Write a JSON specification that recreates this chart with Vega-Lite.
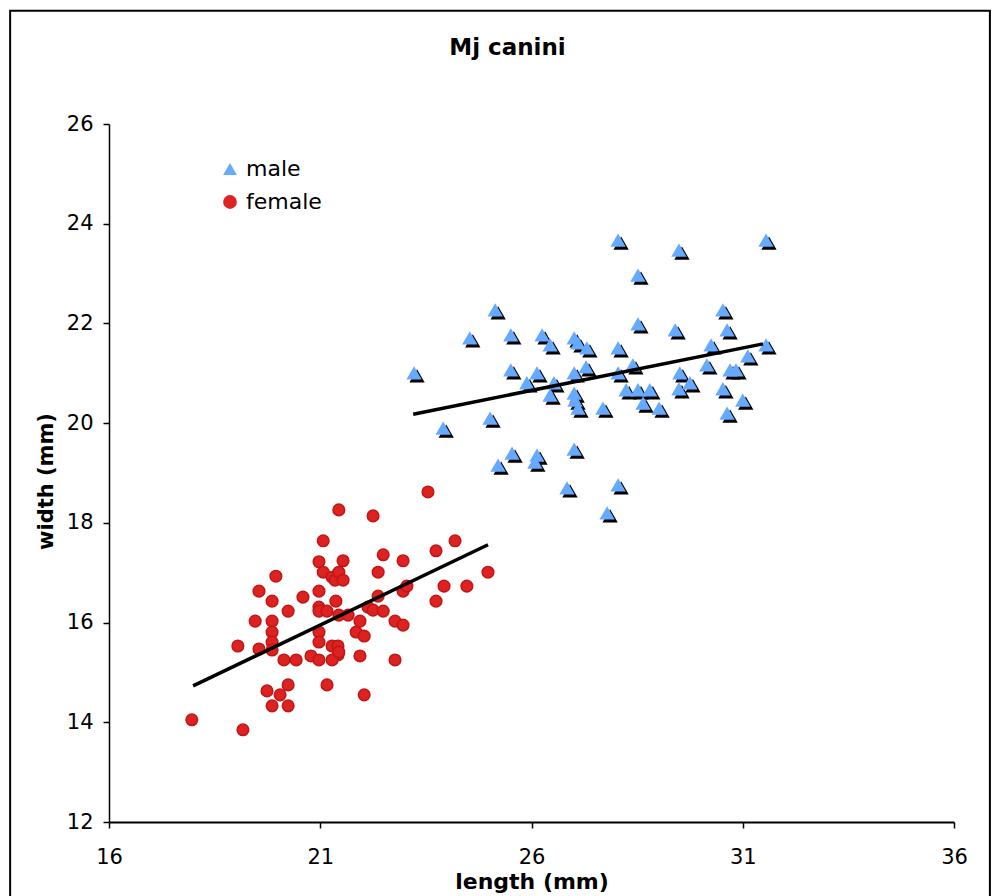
{
  "$schema": "https://vega.github.io/schema/vega-lite/v6.json",
  "autosize": {"type": "none"},
  "width": 845,
  "height": 698,
  "padding": {"left": 109, "top": 124, "right": 38, "bottom": 74},
  "background": "white",
  "title": {"text": "Mj canini", "fontSize": 23, "fontWeight": "bold", "color": "black", "offset": -50, "dx": -24, "font": "DejaVu Sans"},
  "datasets": {
    "pts": [
      {"sex": "male", "length": 25.14, "width": 22.27},
      {"sex": "male", "length": 24.54, "width": 21.71},
      {"sex": "male", "length": 25.51, "width": 21.77},
      {"sex": "male", "length": 26.25, "width": 21.77},
      {"sex": "male", "length": 26.44, "width": 21.57},
      {"sex": "male", "length": 27.01, "width": 21.71},
      {"sex": "male", "length": 27.10, "width": 21.61},
      {"sex": "male", "length": 27.31, "width": 21.51},
      {"sex": "male", "length": 23.22, "width": 21.01},
      {"sex": "male", "length": 25.51, "width": 21.07},
      {"sex": "male", "length": 26.13, "width": 21.01},
      {"sex": "male", "length": 25.89, "width": 20.81},
      {"sex": "male", "length": 26.53, "width": 20.81},
      {"sex": "male", "length": 26.44, "width": 20.56},
      {"sex": "male", "length": 27.01, "width": 21.01},
      {"sex": "male", "length": 27.29, "width": 21.13},
      {"sex": "male", "length": 27.01, "width": 20.60},
      {"sex": "male", "length": 27.03, "width": 20.46},
      {"sex": "male", "length": 27.10, "width": 20.30},
      {"sex": "male", "length": 23.91, "width": 19.90},
      {"sex": "male", "length": 25.02, "width": 20.10},
      {"sex": "male", "length": 25.54, "width": 19.40},
      {"sex": "male", "length": 25.21, "width": 19.16},
      {"sex": "male", "length": 26.13, "width": 19.36},
      {"sex": "male", "length": 26.08, "width": 19.22},
      {"sex": "male", "length": 27.01, "width": 19.48},
      {"sex": "male", "length": 26.84, "width": 18.70},
      {"sex": "male", "length": 28.05, "width": 23.67},
      {"sex": "male", "length": 29.49, "width": 23.47},
      {"sex": "male", "length": 31.55, "width": 23.67},
      {"sex": "male", "length": 28.52, "width": 22.97},
      {"sex": "male", "length": 30.53, "width": 22.27},
      {"sex": "male", "length": 28.52, "width": 21.99},
      {"sex": "male", "length": 29.40, "width": 21.87},
      {"sex": "male", "length": 30.63, "width": 21.87},
      {"sex": "male", "length": 30.25, "width": 21.57},
      {"sex": "male", "length": 31.55, "width": 21.57},
      {"sex": "male", "length": 31.12, "width": 21.35},
      {"sex": "male", "length": 28.05, "width": 21.51},
      {"sex": "male", "length": 28.40, "width": 21.17},
      {"sex": "male", "length": 28.05, "width": 21.01},
      {"sex": "male", "length": 30.15, "width": 21.17},
      {"sex": "male", "length": 29.51, "width": 21.01},
      {"sex": "male", "length": 30.70, "width": 21.07},
      {"sex": "male", "length": 30.84, "width": 21.07},
      {"sex": "male", "length": 29.75, "width": 20.81},
      {"sex": "male", "length": 28.24, "width": 20.67},
      {"sex": "male", "length": 28.52, "width": 20.67},
      {"sex": "male", "length": 28.80, "width": 20.67},
      {"sex": "male", "length": 29.49, "width": 20.69},
      {"sex": "male", "length": 30.53, "width": 20.69},
      {"sex": "male", "length": 28.64, "width": 20.40},
      {"sex": "male", "length": 29.02, "width": 20.30},
      {"sex": "male", "length": 31.00, "width": 20.46},
      {"sex": "male", "length": 27.69, "width": 20.30},
      {"sex": "male", "length": 30.63, "width": 20.20},
      {"sex": "male", "length": 28.05, "width": 18.76},
      {"sex": "male", "length": 27.79, "width": 18.20},
      {"sex": "female", "length": 17.96, "width": 14.05},
      {"sex": "female", "length": 19.17, "width": 13.85},
      {"sex": "female", "length": 19.05, "width": 15.53},
      {"sex": "female", "length": 19.46, "width": 16.03},
      {"sex": "female", "length": 19.55, "width": 16.63},
      {"sex": "female", "length": 19.55, "width": 15.47},
      {"sex": "female", "length": 19.86, "width": 16.43},
      {"sex": "female", "length": 19.86, "width": 16.03},
      {"sex": "female", "length": 19.86, "width": 15.81},
      {"sex": "female", "length": 19.86, "width": 15.61},
      {"sex": "female", "length": 19.86, "width": 15.45},
      {"sex": "female", "length": 19.95, "width": 16.93},
      {"sex": "female", "length": 19.74, "width": 14.63},
      {"sex": "female", "length": 19.86, "width": 14.33},
      {"sex": "female", "length": 20.05, "width": 14.55},
      {"sex": "female", "length": 20.24, "width": 14.75},
      {"sex": "female", "length": 20.24, "width": 14.33},
      {"sex": "female", "length": 20.24, "width": 16.23},
      {"sex": "female", "length": 20.14, "width": 15.25},
      {"sex": "female", "length": 20.43, "width": 15.25},
      {"sex": "female", "length": 20.59, "width": 16.51},
      {"sex": "female", "length": 20.78, "width": 15.33},
      {"sex": "female", "length": 20.97, "width": 17.22},
      {"sex": "female", "length": 21.07, "width": 17.64},
      {"sex": "female", "length": 20.97, "width": 16.63},
      {"sex": "female", "length": 20.97, "width": 16.31},
      {"sex": "female", "length": 20.97, "width": 16.23},
      {"sex": "female", "length": 20.97, "width": 15.81},
      {"sex": "female", "length": 20.97, "width": 15.61},
      {"sex": "female", "length": 20.97, "width": 15.25},
      {"sex": "female", "length": 21.07, "width": 17.01},
      {"sex": "female", "length": 21.16, "width": 16.23},
      {"sex": "female", "length": 21.16, "width": 14.75},
      {"sex": "female", "length": 21.28, "width": 16.91},
      {"sex": "female", "length": 21.35, "width": 16.85},
      {"sex": "female", "length": 21.37, "width": 16.43},
      {"sex": "female", "length": 21.28, "width": 15.53},
      {"sex": "female", "length": 21.42, "width": 15.53},
      {"sex": "female", "length": 21.42, "width": 15.35},
      {"sex": "female", "length": 21.28, "width": 15.25},
      {"sex": "female", "length": 21.44, "width": 17.01},
      {"sex": "female", "length": 21.54, "width": 17.24},
      {"sex": "female", "length": 21.54, "width": 16.85},
      {"sex": "female", "length": 21.44, "width": 18.26},
      {"sex": "female", "length": 21.44, "width": 16.15},
      {"sex": "female", "length": 21.44, "width": 15.41},
      {"sex": "female", "length": 21.66, "width": 16.15},
      {"sex": "female", "length": 21.85, "width": 15.81},
      {"sex": "female", "length": 21.94, "width": 16.03},
      {"sex": "female", "length": 21.94, "width": 15.33},
      {"sex": "female", "length": 22.04, "width": 15.73},
      {"sex": "female", "length": 22.04, "width": 14.55},
      {"sex": "female", "length": 22.13, "width": 16.31},
      {"sex": "female", "length": 22.25, "width": 16.25},
      {"sex": "female", "length": 22.25, "width": 18.14},
      {"sex": "female", "length": 22.37, "width": 17.01},
      {"sex": "female", "length": 22.37, "width": 16.53},
      {"sex": "female", "length": 22.49, "width": 17.36},
      {"sex": "female", "length": 22.49, "width": 16.23},
      {"sex": "female", "length": 22.77, "width": 16.03},
      {"sex": "female", "length": 22.77, "width": 15.25},
      {"sex": "female", "length": 22.96, "width": 17.24},
      {"sex": "female", "length": 22.96, "width": 16.63},
      {"sex": "female", "length": 22.96, "width": 15.95},
      {"sex": "female", "length": 23.05, "width": 16.73},
      {"sex": "female", "length": 23.55, "width": 18.62},
      {"sex": "female", "length": 23.74, "width": 17.44},
      {"sex": "female", "length": 23.74, "width": 16.43},
      {"sex": "female", "length": 23.93, "width": 16.73},
      {"sex": "female", "length": 24.19, "width": 17.64},
      {"sex": "female", "length": 24.47, "width": 16.73},
      {"sex": "female", "length": 24.97, "width": 17.01}
    ],
    "fit": [
      {"sex": "male", "length": 23.2, "width": 20.18},
      {"sex": "male", "length": 31.48, "width": 21.59},
      {"sex": "female", "length": 17.99, "width": 14.73},
      {"sex": "female", "length": 24.97, "width": 17.56}
    ]
  },
  "layer": [
    {
      "data": {"values": [{"frame": 1}]},
      "mark": {"type": "rect", "filled": false, "stroke": "black", "strokeWidth": 2, "clip": false},
      "encoding": {
        "x": {"datum": 13.66, "type": "quantitative", "scale": {"domain": [16, 36], "nice": false, "zero": false}},
        "x2": {"datum": 36.85},
        "y": {"datum": 28.27, "type": "quantitative", "scale": {"domain": [12, 26], "nice": false, "zero": false}},
        "y2": {"datum": 10.2}
      }
    },
    {
      "data": {"name": "pts"},
      "transform": [{"filter": "datum.sex === 'male'"}],
      "mark": {"type": "point", "shape": "triangle-up", "filled": true, "size": 235, "color": "black", "opacity": 1, "xOffset": 3, "yOffset": 3, "strokeWidth": 0},
      "encoding": {
        "x": {"field": "length", "type": "quantitative"},
        "y": {"field": "width", "type": "quantitative"}
      }
    },
    {
      "data": {"name": "pts"},
      "transform": [{"filter": "datum.sex === 'male'"}],
      "mark": {"type": "point", "filled": true, "size": 235, "opacity": 1, "strokeWidth": 0},
      "encoding": {
        "x": {"field": "length", "type": "quantitative"},
        "y": {"field": "width", "type": "quantitative"},
        "color": {"field": "sex", "type": "nominal", "scale": {"domain": ["male", "female"], "range": ["#66aaff", "#dd2222"]}},
        "shape": {"field": "sex", "type": "nominal", "scale": {"domain": ["male", "female"], "range": ["triangle-up", "circle"]}}
      }
    },
    {
      "data": {"name": "pts"},
      "transform": [{"filter": "datum.sex === 'female'"}],
      "mark": {"type": "point", "filled": true, "size": 135, "opacity": 1, "stroke": "#c41515", "strokeWidth": 1.5},
      "encoding": {
        "x": {"field": "length", "type": "quantitative"},
        "y": {"field": "width", "type": "quantitative"},
        "color": {"field": "sex", "type": "nominal"},
        "shape": {"field": "sex", "type": "nominal"}
      }
    },
    {
      "data": {"name": "fit"},
      "mark": {"type": "line", "color": "black", "strokeWidth": 3.5},
      "encoding": {
        "x": {"field": "length", "type": "quantitative", "axis": {"values": [16, 21, 26, 31, 36], "title": "length (mm)", "titleFontSize": 22, "titleFontWeight": "bold", "labelFontSize": 21, "labelPadding": 18, "titlePadding": 4, "tickSize": 6, "tickWidth": 1.5, "domainWidth": 2, "labelFlush": false}},
        "y": {"field": "width", "type": "quantitative", "axis": {"values": [12, 14, 16, 18, 20, 22, 24, 26], "title": "width (mm)", "titleFontSize": 21, "titleFontWeight": "bold", "labelFontSize": 21, "labelPadding": 10, "titlePadding": 10, "titleY": 357, "tickSize": 6, "tickWidth": 1.5, "domainWidth": 1.5, "labelFlush": false}},
        "detail": {"field": "sex", "type": "nominal"}
      }
    }
  ],
  "resolve": {"scale": {"color": "shared", "shape": "shared"}},
  "config": {
    "font": "DejaVu Sans",
    "view": {"stroke": null},
    "axis": {"grid": false, "domainColor": "black", "tickColor": "black", "labelColor": "black", "titleColor": "black"},
    "legend": {"orient": "none", "legendX": 110, "legendY": 34, "title": null, "labelFontSize": 22, "labelColor": "black", "symbolSize": 190, "rowPadding": 11, "padding": 0, "symbolStrokeWidth": 0, "labelOffset": 5}
  }
}
